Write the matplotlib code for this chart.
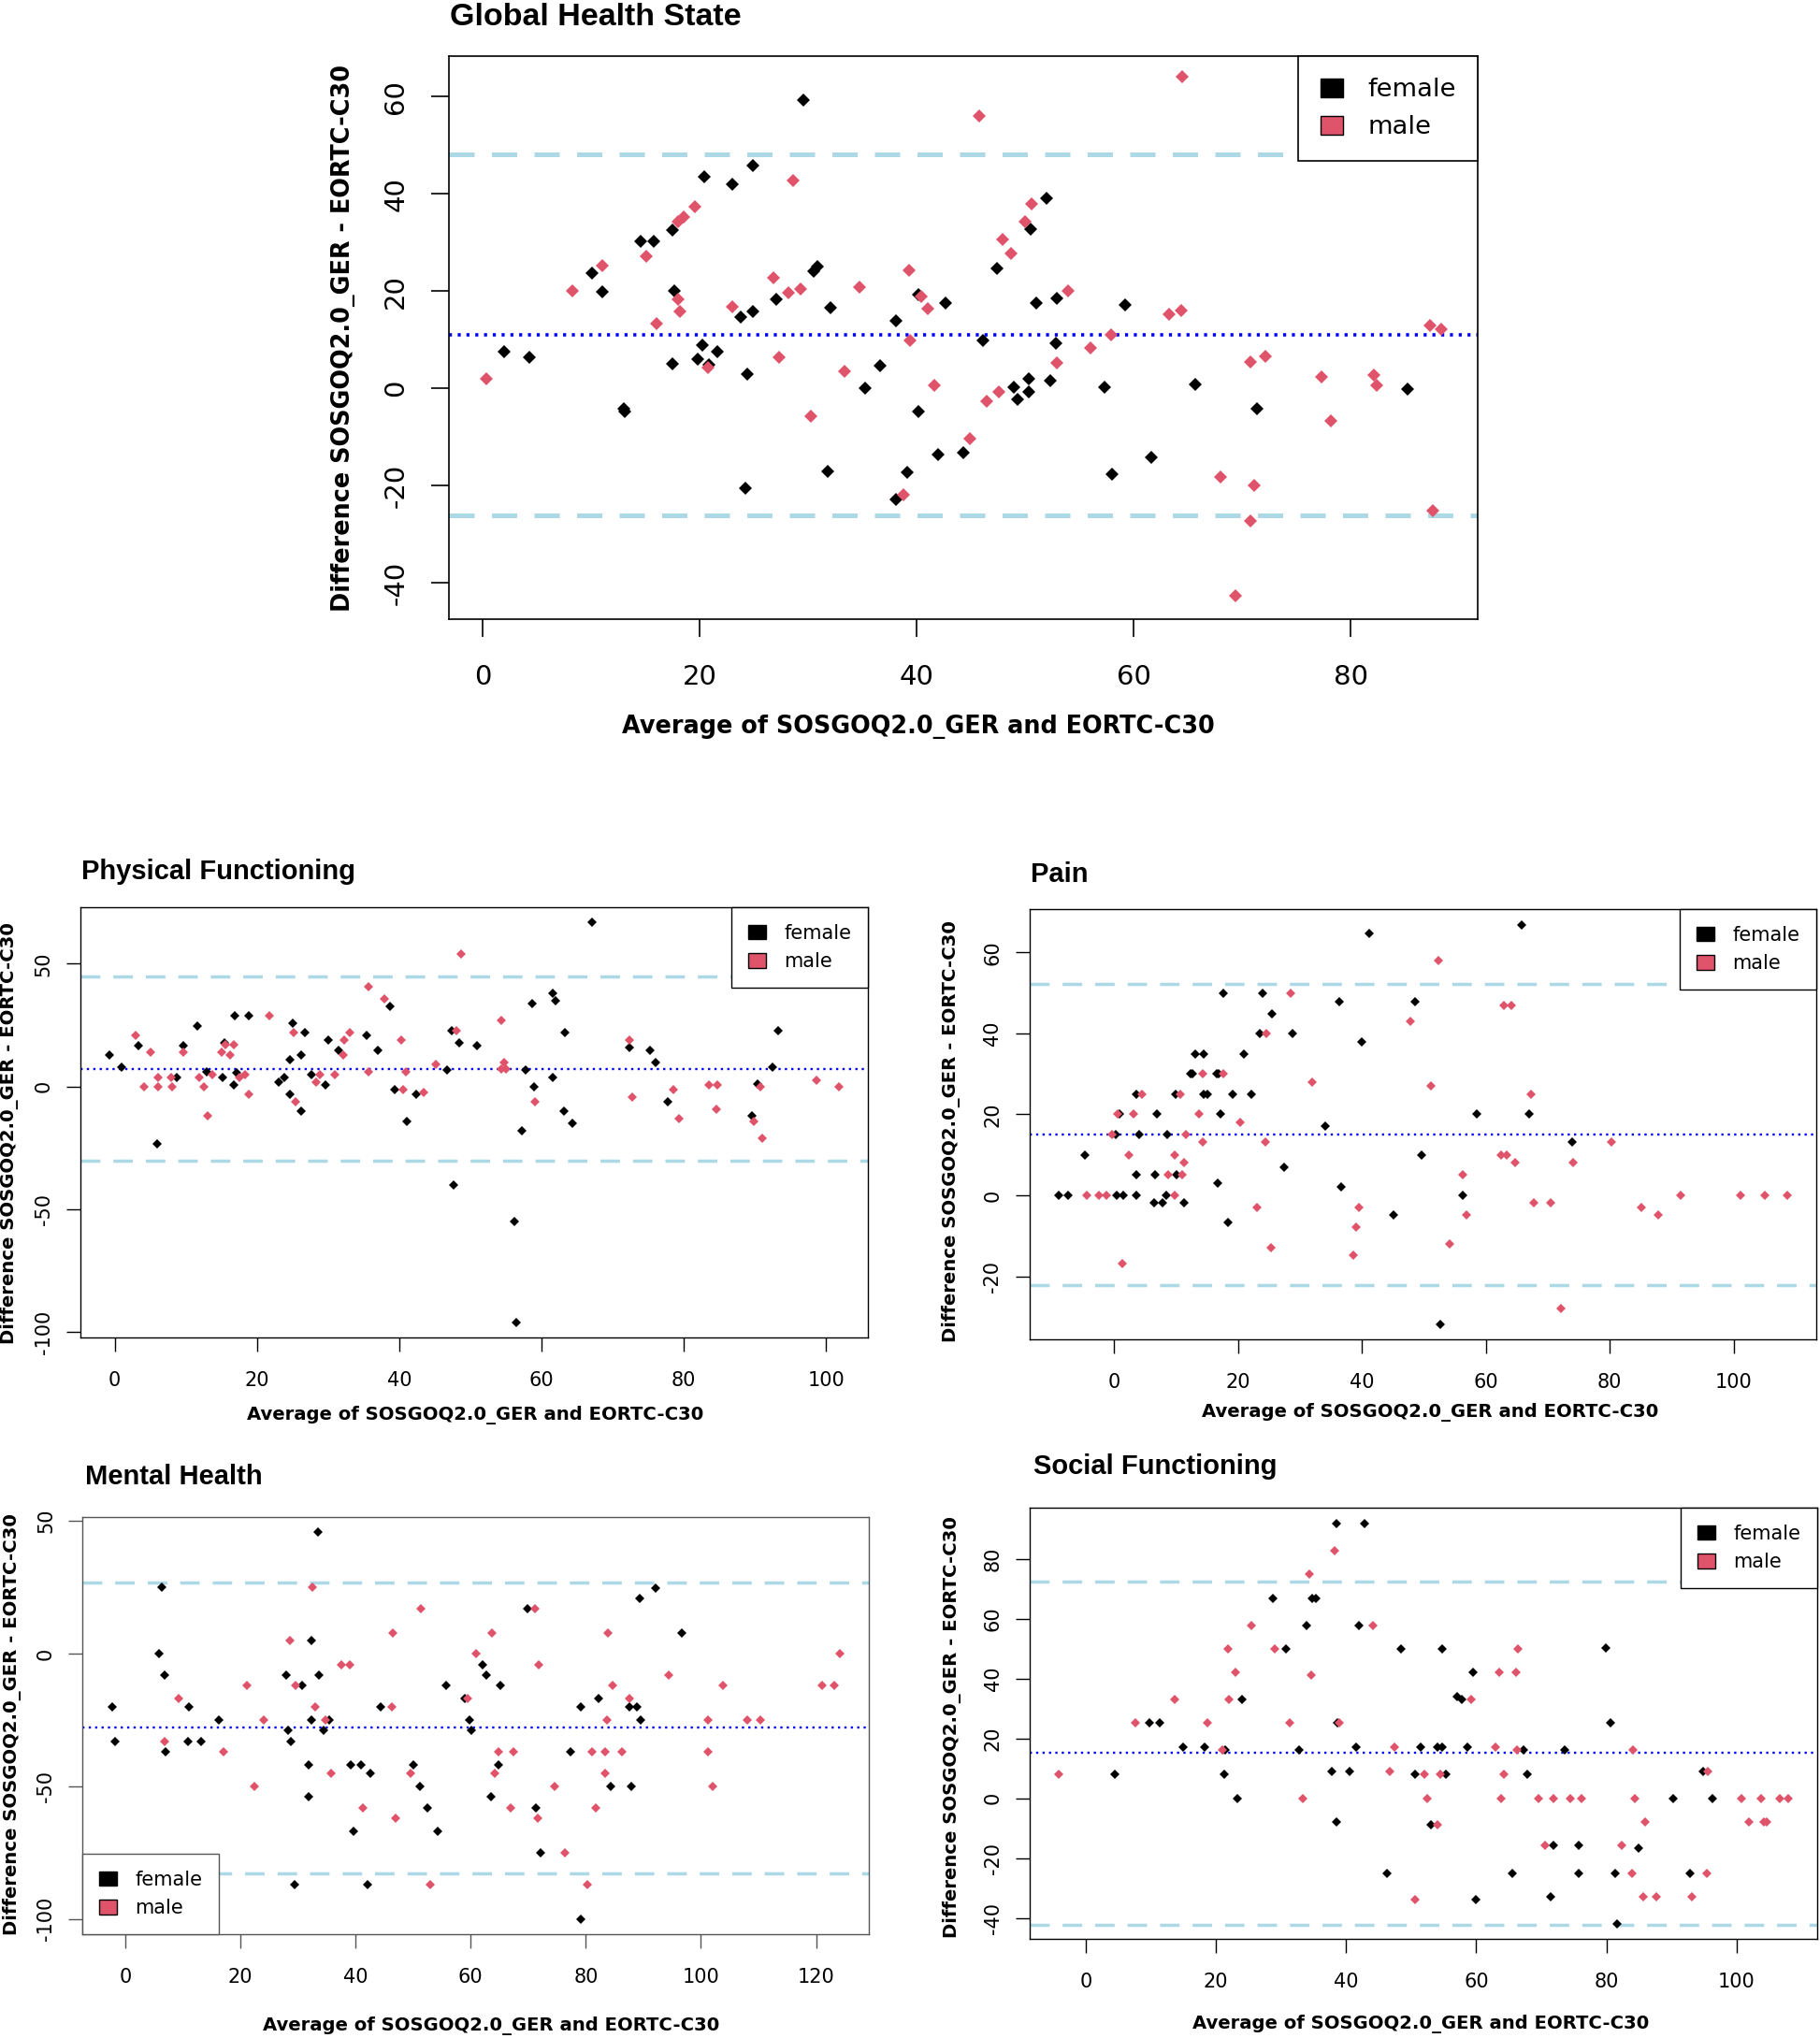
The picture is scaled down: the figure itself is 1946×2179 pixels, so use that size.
import matplotlib
matplotlib.use("Agg")
import matplotlib.pyplot as plt
from matplotlib.patches import Patch

plt.rcParams["axes.unicode_minus"] = False

RED = "#DF536B"
LIGHTBLUE = "#ADD8E6"
XLABEL = "Average of SOSGOQ2.0_GER and EORTC-C30"
YLABEL = "Difference SOSGOQ2.0_GER - EORTC-C30"

# ---- data: (average, difference) pairs ----
ghs_female = [(2.0, 7.6), (4.3, 6.3), (10.1, 23.8), (11.0, 19.8), (13.0, -4.2), (13.1, -4.8),
              (14.6, 30.3), (15.8, 30.3), (17.5, 32.6), (17.5, 5.0), (17.7, 20.1), (19.8, 6.0),
              (20.3, 8.8), (20.9, 4.9), (20.4, 43.6), (21.6, 7.6), (23.0, 42.0), (23.8, 14.7),
              (24.4, 2.9), (24.2, -20.5), (24.9, 15.8), (24.9, 45.9), (27.1, 18.3), (29.6, 59.3),
              (30.5, 24.1), (30.9, 25.1), (32.1, 16.5), (31.8, -17.1), (35.3, 0.0), (36.6, 4.6),
              (38.1, 13.9), (38.1, -22.8), (39.1, -17.2), (40.2, -4.7), (40.2, 19.2), (42.7, 17.6),
              (42.0, -13.6), (44.3, -13.2), (46.1, 9.9), (47.4, 24.6), (49.0, 0.2), (49.3, -2.2),
              (50.3, 2.0), (50.3, -0.8), (50.5, 32.8), (51.0, 17.6), (52.0, 39.1), (52.3, 1.6),
              (52.8, 9.3), (52.9, 18.5), (57.3, 0.2), (58.0, -17.6), (59.2, 17.1), (61.6, -14.2),
              (65.7, 0.8), (71.4, -4.2), (85.2, -0.2)]
ghs_male = [(0.4, 2.0), (8.3, 20.1), (11.0, 25.2), (15.1, 27.2), (16.0, 13.3), (18.0, 18.3),
            (18.2, 15.8), (18.0, 34.3), (18.5, 35.2), (19.6, 37.4), (20.8, 4.3), (23.0, 16.8),
            (26.8, 22.8), (27.3, 6.3), (28.2, 19.6), (28.6, 42.8), (29.3, 20.4), (30.3, -5.8),
            (33.4, 3.6), (34.7, 20.9), (38.8, -21.9), (39.3, 24.3), (39.4, 9.8), (40.4, 18.8),
            (41.0, 16.3), (41.6, 0.6), (44.9, -10.4), (45.8, 56.1), (46.5, -2.7), (47.6, -0.8),
            (47.9, 30.6), (48.7, 27.8), (50.0, 34.3), (50.6, 38.0), (52.9, 5.3), (54.0, 20.1),
            (56.0, 8.3), (57.9, 11.1), (63.3, 15.3), (64.4, 16.0), (64.5, 64.1), (68.0, -18.2),
            (69.4, -42.7), (70.8, 5.5), (71.1, -20.0), (70.8, -27.3), (72.1, 6.6), (77.3, 2.3),
            (78.2, -6.7), (82.1, 2.8), (82.4, 0.6), (87.3, 12.9), (88.3, 12.2), (87.6, -25.2)]
ghs_stats = (11.0, 48.2, -26.1)  # mean difference, upper and lower limit of agreement

pf_female = [(-0.7, 12.7), (1.0, 7.8), (3.4, 16.7), (6.0, -23.2), (8.7, 3.8), (9.6, 16.7),
             (11.6, 24.7), (13.0, 5.9), (15.2, 3.8), (15.5, 17.6), (16.9, 28.9), (16.8, 0.8),
             (17.1, 5.7), (18.9, 28.9), (23.1, 1.7), (23.9, 3.8), (24.7, 10.8), (25.0, 25.9),
             (24.7, -3.2), (26.2, 12.7), (26.2, -10.2), (26.8, 21.8), (27.7, 4.8), (29.6, 0.8),
             (30.0, 18.8), (31.5, 14.9), (35.4, 20.8), (37.0, 14.8), (38.7, 32.7), (39.4, -1.2),
             (41.1, -14.2), (42.4, -3.2), (46.7, 6.9), (47.4, 22.7), (48.4, 17.9), (47.6, -40.2),
             (50.9, 16.7), (56.2, -55.1), (56.5, -96.1), (57.2, -18.2), (57.8, 6.8), (58.9, -0.2),
             (58.7, 33.9), (61.6, 37.8), (62.0, 34.8), (61.6, 3.8), (63.3, 21.8), (63.2, -10.2),
             (64.3, -15.1), (67.1, 66.9), (72.4, 15.8), (75.3, 14.9), (76.0, 9.8), (77.8, -6.2),
             (89.6, -12.0), (90.4, 1.1), (92.5, 7.8), (93.3, 22.7)]
pf_male = [(2.9, 20.9), (4.2, -0.2), (5.0, 13.9), (6.1, 3.8), (6.1, -0.2), (8.0, 3.8), (8.1, -0.2),
           (9.6, 13.9), (11.9, 3.8), (12.5, -0.2), (13.7, 4.7), (13.1, -12.0), (15.1, 13.9),
           (15.6, 16.9), (16.2, 12.8), (16.8, 16.9), (17.5, 3.8), (18.4, 4.8), (18.9, -3.2),
           (21.7, 28.9), (25.2, 21.8), (25.4, -6.2), (28.3, 1.8), (28.9, 4.8), (31.0, 4.8),
           (32.2, 12.8), (32.3, 18.8), (33.0, 21.8), (35.7, 40.7), (35.7, 5.9), (37.9, 35.8),
           (40.3, 18.8), (40.6, -1.2), (40.9, 5.9), (43.4, -2.3), (45.2, 8.9), (48.0, 22.6),
           (48.7, 53.9), (54.3, 26.8), (54.7, 9.8), (54.4, 7.2), (55.0, 7.2), (59.1, -6.2),
           (72.4, 18.8), (72.8, -4.2), (78.5, -1.2), (79.4, -13.1), (83.6, 0.8), (84.7, 0.8),
           (84.6, -9.2), (89.8, -14.3), (90.8, -0.2), (91.1, -21.1), (98.7, 2.7), (101.8, -0.2)]
pf_stats = (7.2, 45.0, -30.4)

pain_female = [(-9.0, 0), (-7.4, 0), (-4.7, 10.0), (0.2, 15.0), (0.4, 0), (1.4, 0), (0.9, 20),
               (3.5, 24.9), (3.5, 5.0), (3.5, 0), (4.0, 15.0), (6.4, -1.9), (6.6, 5.0), (6.9, 20),
               (7.8, -1.9), (8.4, 0), (8.5, 15.0), (9.9, 24.9), (10.0, 5.0), (11.2, -1.9),
               (12.3, 30), (12.7, 30), (13.1, 35), (14.4, 35), (14.4, 24.9), (15.1, 24.9),
               (16.6, 30), (16.9, 30), (16.7, 3.0), (17.2, 20), (17.6, 49.9), (18.3, -6.8),
               (19.1, 24.9), (20.9, 35), (22.1, 24.9), (23.5, 40), (23.9, 49.9), (25.4, 44.9),
               (27.5, 7.0), (28.8, 40), (34.1, 17.0), (36.4, 47.9), (36.7, 2.0), (40.0, 37.9),
               (41.1, 64.8), (45.1, -4.9), (48.5, 47.9), (49.7, 10.0), (52.6, -31.9), (56.3, 0),
               (58.5, 20), (65.8, 66.8), (67.0, 20), (73.9, 13.1)]
pain_male = [(-4.4, 0), (-2.5, 0), (-1.3, 0), (-0.4, 15.0), (0.6, 20), (1.3, -16.9), (2.3, 10.0),
             (3.1, 20), (4.4, 24.9), (8.7, 5.0), (9.8, 10.0), (10.6, 24.9), (9.8, 0), (10.9, 5.0),
             (11.3, 8.0), (11.5, 15.0), (13.7, 20), (14.3, 30), (14.3, 13.1), (17.6, 30),
             (20.3, 18.0), (23.1, -2.9), (24.5, 40), (24.4, 13.1), (25.3, -13.0), (28.5, 49.9),
             (32.0, 27.9), (39.5, -2.9), (39.0, -7.9), (38.6, -14.9), (47.8, 42.9), (51.1, 27.0),
             (52.4, 57.9), (54.2, -12.0), (56.3, 5.0), (56.8, -4.9), (62.4, 10.0), (62.9, 46.9),
             (63.4, 10.0), (64.1, 46.9), (64.8, 8.0), (67.3, 25.0), (67.7, -1.9), (70.4, -1.9),
             (72.2, -27.9), (74.1, 8.0), (80.3, 13.1), (85.1, -2.9), (87.8, -4.9), (91.4, 0),
             (101.1, 0), (105.1, 0), (108.7, 0)]
pain_stats = (15.0, 52.3, -22.3)

mh_female = [(-2.3, -20.1), (-1.7, -33.1), (5.9, 0), (6.4, 24.9), (6.9, -8.1), (7.0, -37.1),
             (11.1, -20.1), (10.9, -33.1), (13.2, -33.1), (16.2, -25.1), (28.0, -8.1), (28.3, -29.0),
             (28.8, -33.1), (29.4, -87.0), (30.7, -12.0), (31.9, -42.1), (31.9, -54.1), (32.4, 5.0),
             (32.4, -25.1), (33.4, 45.9), (33.7, -8.1), (34.4, -29.0), (35.5, -25.1), (39.2, -42.1),
             (41.0, -42.1), (42.5, -45.0), (39.6, -67.1), (42.1, -87.0), (44.3, -20.1), (50.1, -42.1),
             (51.2, -50.0), (52.5, -58.1), (54.3, -67.1), (55.8, -12.0), (59.0, -17.0), (62.1, -4.1),
             (62.8, -8.1), (65.2, -12.0), (59.8, -25.1), (60.1, -29.0), (64.8, -42.1), (63.6, -54.1),
             (69.9, 16.9), (71.3, -58.1), (72.2, -75.1), (77.4, -37.1), (79.1, -20.1), (79.1, -100.0),
             (82.2, -17.0), (84.4, -50.0), (87.6, -20.1), (88.9, -20.1), (87.9, -50.0), (89.5, -25.1),
             (89.4, 20.8), (92.2, 24.8), (96.7, 7.9)]
mh_male = [(6.8, -33.1), (9.2, -17.0), (17.1, -37.1), (21.2, -12.0), (22.4, -50.0), (24.0, -25.1),
           (28.6, 5.0), (29.6, -12.0), (32.5, 24.9), (33.0, -20.1), (34.7, -25.1), (35.7, -45.0),
           (37.6, -4.1), (39.0, -4.1), (41.2, -58.1), (46.3, -20.1), (46.4, 7.9), (47.0, -62.0),
           (49.5, -45.0), (51.3, 16.9), (52.9, -87.0), (59.5, -17.0), (60.9, 0), (63.7, 7.9),
           (64.9, -37.1), (64.2, -45.0), (67.5, -37.1), (67.0, -58.1), (71.1, 16.9), (71.8, -4.1),
           (71.7, -62.0), (74.6, -50.0), (76.3, -75.1), (80.3, -87.0), (81.1, -37.1), (81.7, -58.1),
           (83.4, -37.1), (83.3, -45.0), (83.7, -25.1), (83.9, 7.9), (84.7, -12.0), (86.3, -37.1),
           (87.5, -17.0), (94.4, -8.1), (101.3, -25.1), (101.2, -37.1), (102.1, -50.0), (103.8, -12.0),
           (108.1, -25.1), (110.4, -25.1), (121.0, -12.0), (123.2, -12.0), (124.2, 0)]
mh_stats = (-28.0, 26.8, -83.0)

sf_female = [(4.5, 8.0), (9.8, 25.1), (11.3, 25.1), (14.9, 17.1), (18.2, 17.1), (21.4, 16.1),
             (21.3, 8.0), (23.3, 0), (24.0, 33.0), (28.8, 66.8), (30.7, 50.0), (32.8, 16.1),
             (33.9, 57.9), (34.8, 66.8), (35.4, 66.8), (37.8, 9.0), (38.5, 92.0), (38.5, -7.9),
             (38.7, 25.1), (40.6, 9.0), (41.5, 17.1), (42.0, 57.9), (42.8, 92.0), (46.3, -25.0),
             (48.4, 50.0), (50.6, 8.0), (51.4, 17.1), (53.0, -8.9), (54.1, 17.1), (54.7, 50.0),
             (54.8, 17.1), (55.3, 8.0), (57.1, 34.0), (57.8, 33.0), (58.6, 17.1), (59.5, 42.1),
             (60.0, -33.9), (65.5, -25.0), (67.3, 16.1), (67.8, 8.0), (71.4, -32.9), (71.9, -15.8),
             (73.6, 16.1), (75.8, -15.8), (75.8, -25.0), (79.9, 50.3), (80.6, 25.1), (81.3, -25.0),
             (81.6, -42.0), (84.9, -16.8), (90.2, 0), (92.9, -25.0), (94.8, 9.0), (96.3, 0)]
sf_male = [(-4.1, 8.0), (7.7, 25.1), (13.6, 33.0), (18.7, 25.1), (21.0, 16.1), (21.8, 50.0),
           (22.0, 33.0), (23.0, 42.1), (25.4, 57.9), (29.1, 50.0), (31.3, 25.1), (33.3, 0),
           (34.4, 75.0), (34.7, 41.1), (38.3, 82.9), (38.9, 25.1), (44.1, 57.9), (46.7, 9.0),
           (47.4, 17.1), (50.6, -33.9), (52.1, 8.0), (52.4, 0), (54.0, -8.9), (54.5, 8.0),
           (59.2, 33.0), (63.0, 17.1), (63.6, 42.1), (63.8, 0), (64.3, 8.0), (66.1, 42.1),
           (66.2, 16.1), (66.4, 50.0), (69.5, 0), (70.5, -15.8), (71.8, 0), (74.5, 0), (76.2, 0),
           (82.4, -15.8), (84.0, -25.0), (84.1, 16.1), (84.4, 0), (85.7, -32.9), (86.0, -7.9),
           (87.7, -32.9), (93.1, -32.9), (95.4, -25.0), (95.6, 9.0), (100.8, 0), (101.9, -7.9),
           (103.7, 0), (104.2, -7.9), (104.6, -7.9), (106.7, 0), (108.0, 0)]
sf_stats = (15.2, 72.4, -42.3)


BIG = dict(tick_fs=21, tick_len=13.7, tick_w=1.2, xpad=20.5, ypad=17, label_fs=18.4,
           title_fs=24.5, leg_fs=19.7, ms=7.2, spine_w=1.2, mean_lw=2.6, mean_dash=(0.9, 1.7),
           loa_lw=3.6, loa_dash=(5.4, 3.7))
SMALL = dict(tick_fs=15, tick_len=10.8, tick_w=1.0, xpad=15, ypad=10.3, label_fs=14.1,
             title_fs=21, leg_fs=15, ms=5.0, spine_w=1.0, mean_lw=1.7, mean_dash=(1.0, 1.9),
             loa_lw=2.5, loa_dash=(6.0, 4.0))


def bland_altman(fig, rect, female, male, stats, xlim, ylim, xticks, yticks, st,
                 title, title_xy, xlabel_xy, ylabel_xy, legend_loc, frame_color="black"):
    ax = fig.add_axes(rect)
    mean_d, upper, lower = stats
    ax.axhline(mean_d, color="blue", lw=st["mean_lw"], linestyle=(0, st["mean_dash"]), zorder=1)
    ax.axhline(upper, color=LIGHTBLUE, lw=st["loa_lw"], linestyle=(0, st["loa_dash"]), zorder=1)
    ax.axhline(lower, color=LIGHTBLUE, lw=st["loa_lw"], linestyle=(0, st["loa_dash"]), zorder=1)

    fx, fy = zip(*female)
    mx, my = zip(*male)
    ax.plot(fx, fy, "D", color="black", ms=st["ms"], mew=0, zorder=2)
    ax.plot(mx, my, "D", color=RED, ms=st["ms"], mew=0, zorder=2)

    ax.set_xlim(xlim)
    ax.set_ylim(ylim)
    ax.set_xticks(xticks)
    ax.set_yticks(yticks)
    ax.tick_params(axis="both", direction="out", length=st["tick_len"], width=st["tick_w"],
                   labelsize=st["tick_fs"], color=frame_color, labelcolor="black")
    ax.tick_params(axis="x", pad=st["xpad"])
    ax.tick_params(axis="y", pad=st["ypad"])
    for lab in ax.get_yticklabels():
        lab.set_rotation(90)
        lab.set_va("center")
    for sp in ax.spines.values():
        sp.set_linewidth(st["spine_w"])
        sp.set_color(frame_color)

    handles = [Patch(facecolor="black", edgecolor="black", lw=1),
               Patch(facecolor=RED, edgecolor="black", lw=1)]
    leg = ax.legend(handles, ["female", "male"], loc=legend_loc, borderaxespad=0,
                    fontsize=st["leg_fs"], fancybox=False, framealpha=1, edgecolor=frame_color,
                    borderpad=0.85, handlelength=0.9, handleheight=0.75, handletextpad=0.95,
                    labelspacing=0.5)
    leg.get_frame().set_linewidth(st["spine_w"])
    leg.set_zorder(5)

    fig.text(title_xy[0], title_xy[1], title, fontsize=st["title_fs"], fontweight="bold",
             family="Liberation Sans", ha="left", va="baseline")
    fig.text(xlabel_xy[0], xlabel_xy[1], XLABEL, fontsize=st["label_fs"], fontweight="bold",
             ha="center", va="baseline")
    fig.text(ylabel_xy[0], ylabel_xy[1], YLABEL, fontsize=st["label_fs"], fontweight="bold",
             rotation=90, ha="center", va="center")
    return ax


fig = plt.figure(figsize=(19.46, 21.79), dpi=100)

bland_altman(fig, [0.2466, 0.6961, 0.5653, 0.2763], ghs_female, ghs_male, ghs_stats,
             (-3.1, 91.7), (-47.5, 68.3), range(0, 81, 20), range(-40, 61, 20), BIG,
             "Global Health State", (0.2472, 0.9878), (0.5047, 0.6402), (0.1884, 0.834),
             "upper right")

bland_altman(fig, [0.0442, 0.3437, 0.4327, 0.2111], pf_female, pf_male, pf_stats,
             (-4.8, 105.9), (-102.3, 73.0), range(0, 101, 20), range(-100, 51, 50), SMALL,
             "Physical Functioning", (0.0448, 0.5688), (0.261, 0.3034), (0.0051, 0.4438),
             "upper right")

bland_altman(fig, [0.5656, 0.3426, 0.4325, 0.2113], pain_female, pain_male, pain_stats,
             (-13.7, 113.4), (-35.7, 70.7), range(0, 101, 20), range(-20, 61, 20), SMALL,
             "Pain", (0.5664, 0.5674), (0.786, 0.3047), (0.5228, 0.445),
             "upper right")

bland_altman(fig, [0.0454, 0.0509, 0.4321, 0.2046], mh_female, mh_male, mh_stats,
             (-7.4, 129.2), (-105.8, 51.4), range(0, 121, 20), range(-100, 51, 50), SMALL,
             "Mental Health", (0.0468, 0.2717), (0.2698, 0.0037), (0.0066, 0.1539),
             "lower left", frame_color="#555555")

bland_altman(fig, [0.5658, 0.0485, 0.4327, 0.2116], sf_female, sf_male, sf_stats,
             (-8.6, 112.4), (-47.1, 97.1), range(0, 101, 20), range(-40, 81, 20), SMALL,
             "Social Functioning", (0.568, 0.2767), (0.7806, 0.0046), (0.5229, 0.1528),
             "upper right")

fig.savefig("out.png", dpi=100)
